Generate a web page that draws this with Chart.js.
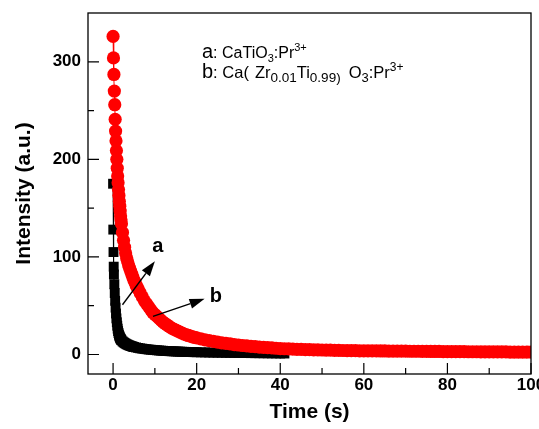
<!DOCTYPE html>
<html>
<head>
<meta charset="utf-8">
<title>Decay curves</title>
<script src="https://cdn.jsdelivr.net/npm/chart.js@4.4.0/dist/chart.umd.min.js"></script>
<style>
    html, body { margin: 0; padding: 0; background: #fff; }
    #wrap { width: 539px; height: 429px; position: relative; }
</style>
</head>
<body>
<div id="wrap"><canvas id="decayChart"></canvas></div>
<script>
// --- Data: time (s) and intensity (a.u.) ---
// b: Ca(Zr0.01Ti0.99)O3:Pr3+  (red circles)
const redTime = [
    0, 0.1, 0.2, 0.3, 0.4, 0.5, 0.6, 0.7, 0.8, 0.9, 1.0, 1.1, 1.2, 1.3, 1.4, 1.5, 1.6, 1.7, 1.8, 1.9, 2.0,
    2.25, 2.5, 2.75, 3.0, 3.25, 3.5, 3.75, 4.0, 4.25, 4.5, 4.75, 5.0, 5.25, 5.5, 5.75, 6.0,
    6.5, 7, 7.5, 8, 8.5, 9, 9.5, 10, 10.5, 11, 11.5, 12, 12.5, 13, 13.5, 14, 14.5, 15, 15.5, 16, 16.5, 17, 17.5, 18, 18.5, 19, 19.5, 20,
    21, 22, 23, 24, 25, 26, 27, 28, 29, 30,
    31, 32, 33, 34, 35, 36, 37, 38, 39, 40,
    41, 42, 43, 44, 45, 46, 47, 48, 49, 50,
    51, 52, 53, 54, 55, 56, 57, 58, 59, 60,
    61, 62, 63, 64, 65, 66, 67, 68, 69, 70,
    71, 72, 73, 74, 75, 76, 77, 78, 79, 80,
    81, 82, 83, 84, 85, 86, 87, 88, 89, 90,
    91, 92, 93, 94, 95, 96, 97, 98, 99, 100
];
const redIntensity = [
    326, 304, 287, 270, 256, 241, 229, 219, 209, 200, 191, 183, 176, 169, 163, 157, 152, 147, 142, 138, 134,
    125, 117, 110, 104, 99, 95, 91, 88, 85, 82, 79, 76, 74, 71, 69, 67,
    63, 59, 55, 52, 49, 46, 43, 41, 39, 37, 35, 33, 31.5, 30, 28.5, 27, 26, 25, 24, 23, 22, 21, 20.2, 19.5, 18.8, 18.1, 17.5, 17,
    16, 15, 14.2, 13.4, 12.7, 12, 11.4, 10.8, 10.2, 9.7,
    9.2, 8.8, 8.4, 8, 7.6, 7.3, 7, 6.7, 6.4, 6.1,
    5.9, 5.7, 5.5, 5.3, 5.2, 5.0, 4.9, 4.8, 4.7, 4.6,
    4.5, 4.4, 4.3, 4.2, 4.1, 4.0, 3.9, 3.9, 3.8, 3.8,
    3.7, 3.7, 3.7, 3.6, 3.6, 3.5, 3.5, 3.5, 3.4, 3.4,
    3.3, 3.3, 3.3, 3.2, 3.2, 3.1, 3.1, 3.1, 3.0, 3.0,
    3.0, 2.9, 2.9, 2.9, 2.8, 2.8, 2.8, 2.7, 2.7, 2.7,
    2.6, 2.6, 2.6, 2.6, 2.5, 2.5, 2.5, 2.4, 2.4, 2.4
];

// a: CaTiO3:Pr3+  (black squares)
const blackTime = [
    0, 0.05, 0.1, 0.15,
    0.2, 0.3, 0.4, 0.5, 0.6, 0.7, 0.8, 0.9, 1.0, 1.1, 1.2, 1.3, 1.4, 1.5, 1.6, 1.7, 1.8, 1.9, 2.0,
    2.25, 2.5, 2.75, 3.0, 3.25, 3.5, 3.75, 4.0, 4.25, 4.5, 4.75, 5.0,
    5.5, 6, 6.5, 7, 7.5, 8, 8.5, 9, 9.5, 10, 10.5, 11, 11.5, 12, 12.5, 13, 13.5, 14, 14.5, 15, 15.5, 16, 16.5, 17, 17.5, 18, 18.5, 19, 19.5, 20,
    21, 22, 23, 24, 25, 26, 27, 28, 29, 30, 31, 32, 33, 34, 35, 36, 37, 38, 39, 40, 41
];
const blackIntensity = [
    175, 128, 105, 90,
    82, 72, 63, 55, 48, 42, 37, 33, 29.5, 26.5, 24, 22, 20.3, 19, 17.8, 16.8, 16, 15.3, 14.7,
    13.5, 12.6, 11.8, 11.1, 10.5, 10, 9.5, 9.1, 8.7, 8.3, 8.0, 7.7,
    7.2, 6.7, 6.3, 6.0, 5.7, 5.4, 5.1, 4.9, 4.7, 4.5, 4.3, 4.1, 3.95, 3.8, 3.65, 3.5, 3.4, 3.3, 3.2, 3.1, 3.0, 2.9, 2.8, 2.7, 2.65, 2.6, 2.5, 2.45, 2.4, 2.3,
    2.2, 2.1, 2.0, 1.9, 1.85, 1.8, 1.7, 1.65, 1.6, 1.55, 1.5, 1.45, 1.4, 1.35, 1.3, 1.25, 1.2, 1.15, 1.1, 1.05, 1.0
];

// Arrows pointing at the curves (data coordinates) and their letters
const arrowNotes = [
    { letter: 'a', from: [2.25, 51], to: [10, 95.5], at: [10.7, 111] },
    { letter: 'b', from: [9.55, 39], to: [21.9, 57], at: [24.6, 59] }
];

const FONT = "'Liberation Sans', Arial, sans-serif";

function toPoints(xs, ys) {
    return xs.map((t, i) => ({ x: t, y: ys[i] }));
}

// --- Drawing helpers ---
function drawArrow(ctx, x0, y0, x1, y1) {
    const ang = Math.atan2(y1 - y0, x1 - x0);
    const head = 15, half = 5;
    const bx = x1 - head * Math.cos(ang);
    const by = y1 - head * Math.sin(ang);
    ctx.beginPath();
    ctx.moveTo(x0, y0);
    ctx.lineTo(bx, by);
    ctx.stroke();
    ctx.beginPath();
    ctx.moveTo(x1, y1);
    ctx.lineTo(bx + half * Math.sin(ang), by - half * Math.cos(ang));
    ctx.lineTo(bx - half * Math.sin(ang), by + half * Math.cos(ang));
    ctx.closePath();
    ctx.fill();
}

// draws a run of text pieces with their own size / baseline shift
function drawRich(ctx, x, y, parts) {
    let cx = x;
    parts.forEach(p => {
        ctx.font = (p.bold ? 'bold ' : '') + p.size + 'px ' + FONT;
        ctx.fillText(p.t, cx, y + (p.dy || 0));
        cx += ctx.measureText(p.t).width + (p.gap || 0);
    });
}

const decorations = {
    id: 'decorations',
    afterDatasetsDraw(chart) {
        const { ctx, chartArea: area, scales: { x, y } } = chart;
        ctx.save();
        ctx.strokeStyle = '#000';
        ctx.fillStyle = '#000';

        // frame
        ctx.lineWidth = 1.3;
        ctx.strokeRect(area.left, area.top, area.right - area.left, area.bottom - area.top);

        // inward ticks, majors from the scales, minors halfway between
        ctx.lineWidth = 1.2;
        const xt = x.ticks.map(t => t.value);
        const yt = y.ticks.map(t => t.value);
        const xStep = xt[1] - xt[0], yStep = yt[1] - yt[0];
        ctx.beginPath();
        xt.forEach(v => {
            const px = x.getPixelForValue(v);
            ctx.moveTo(px, area.bottom); ctx.lineTo(px, area.bottom - 11);
            const m = v + xStep / 2;
            if (m < x.max) {
                const mx = x.getPixelForValue(m);
                ctx.moveTo(mx, area.bottom); ctx.lineTo(mx, area.bottom - 6);
            }
        });
        yt.forEach(v => {
            const py = y.getPixelForValue(v);
            ctx.moveTo(area.left, py); ctx.lineTo(area.left + 11, py);
            const m = v + yStep / 2;
            if (m < y.max) {
                const my = y.getPixelForValue(m);
                ctx.moveTo(area.left, my); ctx.lineTo(area.left + 6, my);
            }
        });
        ctx.stroke();

        // arrows with letters
        ctx.lineWidth = 1.4;
        ctx.textAlign = 'center';
        ctx.textBaseline = 'middle';
        ctx.font = 'bold 20px ' + FONT;
        arrowNotes.forEach(n => {
            drawArrow(ctx,
                x.getPixelForValue(n.from[0]), y.getPixelForValue(n.from[1]),
                x.getPixelForValue(n.to[0]), y.getPixelForValue(n.to[1]));
            ctx.fillText(n.letter, x.getPixelForValue(n.at[0]), y.getPixelForValue(n.at[1]));
        });

        // sample names
        ctx.textAlign = 'left';
        ctx.textBaseline = 'alphabetic';
        const lx = area.left + 114;
        drawRich(ctx, lx, area.top + 45, [
            { t: 'a', size: 20 },
            { t: ': CaTiO', size: 16 },
            { t: '3', size: 11, dy: 4 },
            { t: ':Pr', size: 16 },
            { t: '3+', size: 11, dy: -7 }
        ]);
        drawRich(ctx, lx, area.top + 65, [
            { t: 'b', size: 20 },
            { t: ': Ca(', size: 16.5, gap: 6 },
            { t: 'Zr', size: 16.5 },
            { t: '0.01', size: 13.5, dy: 4 },
            { t: 'Ti', size: 16.5 },
            { t: '0.99)', size: 13.5, dy: 4, gap: 8 },
            { t: 'O', size: 16.5 },
            { t: '3', size: 13, dy: 4 },
            { t: ':Pr', size: 16.5 },
            { t: '3+', size: 12, dy: -7 }
        ]);
        ctx.restore();
    }
};

const tickFont = { family: FONT, size: 17, weight: 'bold' };
const titleFont = { family: FONT, size: 21, weight: 'bold' };

new Chart(document.getElementById('decayChart'), {
    type: 'scatter',
    data: {
        datasets: [
            {
                label: 'b',
                data: toPoints(redTime, redIntensity),
                showLine: true,
                borderColor: '#ff0000',
                borderWidth: 1,
                backgroundColor: '#ff0000',
                pointStyle: 'circle',
                pointRadius: 6.6,
                pointBorderWidth: 0
            },
            {
                label: 'a',
                data: toPoints(blackTime, blackIntensity),
                showLine: true,
                borderColor: '#000000',
                borderWidth: 1,
                backgroundColor: '#000000',
                pointStyle: 'rect',
                pointRadius: 7,
                pointBorderWidth: 0
            }
        ]
    },
    options: {
        responsive: true,
        maintainAspectRatio: false,
        animation: false,
        layout: { padding: { top: 13, right: 8, left: 0, bottom: 0 } },
        plugins: {
            legend: { display: false },
            tooltip: { enabled: false }
        },
        scales: {
            x: {
                type: 'linear',
                min: -6,
                max: 100,
                grid: { display: false, drawTicks: false },
                border: { display: false },
                ticks: { stepSize: 20, includeBounds: false, color: '#000', font: tickFont, padding: 1, maxRotation: 0 },
                title: { display: true, text: 'Time (s)', color: '#000', font: titleFont, padding: { top: 0, bottom: 4 } },
                afterFit: s => { s.height = 55; s.paddingLeft = 0; s.paddingRight = 0; }
            },
            y: {
                type: 'linear',
                min: -20,
                max: 350,
                grid: { display: false, drawTicks: false },
                border: { display: false },
                ticks: { stepSize: 100, includeBounds: false, color: '#000', font: tickFont, padding: 7 },
                title: { display: true, text: 'Intensity (a.u.)', color: '#000', font: titleFont, padding: { top: 12, bottom: 0 } },
                afterFit: s => { s.width = 88; s.paddingTop = 0; s.paddingBottom = 0; }
            }
        }
    },
    plugins: [decorations]
});
</script>
</body>
</html>
